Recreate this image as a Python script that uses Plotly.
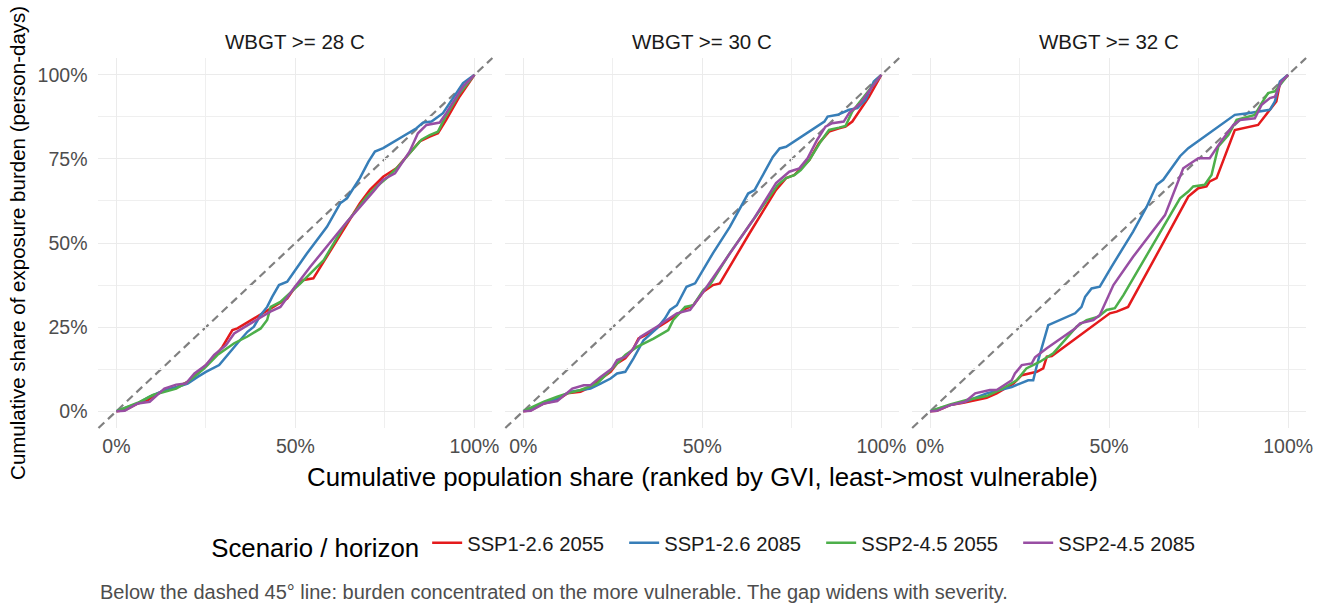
import plotly.graph_objects as go

# ---------------- data (fractions of total) ----------------
panels = ["WBGT >= 28 C", "WBGT >= 30 C", "WBGT >= 32 C"]
scenarios = ["SSP1-2.6 2055", "SSP1-2.6 2085", "SSP2-4.5 2055", "SSP2-4.5 2085"]
colors = ["#E41A1C", "#377EB8", "#4DAF4A", "#984EA3"]
tick_vals = [0, 0.25, 0.5, 0.75, 1.0]
x_tick_vals = [0, 0.5, 1.0]
x_minor_vals = [0.25, 0.75]
y_minor_vals = [0.125, 0.375, 0.625, 0.875]

# Panel WBGT >= 28 C
p28_a_x = [0, 2.3, 6, 8.8, 10.6, 13.4, 17, 19.9, 22.7, 25, 28.2, 29.6, 32.4, 33.8, 39.3, 44, 47.7, 50, 52.3, 55, 58.8, 63.4, 68, 70.8, 74.5, 78.2, 81, 84.7, 87.5, 89.8, 92.1, 95.8, 100]
p28_a_y = [0, 0.3, 2.3, 3.3, 4.8, 6.2, 7.2, 8.7, 11.2, 13.7, 17.2, 19.1, 24.1, 24.6, 28.1, 31, 33.5, 37, 39, 39.5, 46, 53.9, 61.8, 65.8, 69.7, 72.2, 75.7, 80.2, 81.6, 82.6, 86.6, 93.5, 100]
p28_b_x = [0, 6, 9.3, 12.5, 17, 19.9, 22.7, 25, 28.7, 31, 33.8, 36.6, 38.4, 40.3, 42.1, 43.5, 45.4, 47.7, 53.2, 58.8, 62.5, 64.4, 68, 70.4, 72.2, 74.5, 83.8, 85.6, 88, 91.2, 93.1, 96.8, 100]
p28_b_y = [0, 2.3, 4.3, 5.8, 7.2, 8.2, 10.2, 11.7, 13.7, 16.7, 20.2, 23.6, 25.1, 28.6, 31, 34, 37.5, 38.5, 46.9, 54.8, 61.8, 63.3, 69.3, 74.2, 77.2, 78.2, 84.1, 85.8, 86.1, 88.6, 91.5, 97.5, 100]
p28_c_x = [0, 6, 10.2, 13.4, 16.7, 19.9, 24.5, 28.2, 32.9, 36.6, 40.3, 42.1, 43.1, 45.8, 49.5, 51.4, 57.9, 63.4, 69.9, 72.7, 75.5, 78.7, 81.9, 85.2, 87.5, 89.8, 91.7, 95.8, 100]
p28_c_y = [0, 2.5, 4.8, 5.8, 6.7, 8.7, 12.7, 16.7, 20.2, 22.2, 24.6, 27.1, 31, 32.5, 36, 38, 44.9, 54.8, 63.8, 66.8, 69.3, 72.7, 76.7, 80.7, 82.1, 83.1, 87.1, 94.4, 100]
p28_d_x = [0, 2.3, 6, 9.3, 13.4, 16.7, 19.4, 21.8, 25, 27.3, 30.6, 32.9, 37.5, 43, 45.8, 49.5, 54.2, 64.4, 71.8, 74.5, 77.8, 81.9, 84.2, 86.6, 90.3, 92.1, 96.8, 100]
p28_d_y = [0, 0.1, 2.3, 2.8, 6.7, 7.9, 8.2, 11.2, 13.7, 16.7, 19.6, 23.1, 26.1, 29.6, 31, 36.5, 43, 56.3, 65.3, 68.8, 70.7, 77.2, 82.6, 85.1, 85.8, 88.6, 96.5, 100]

# Panel WBGT >= 30 C
p30_a_x = [0, 2.1, 5.8, 9.5, 12.3, 16, 18.8, 21.1, 24.4, 26.2, 28.5, 30.8, 32.2, 34.1, 40.1, 45.6, 47.5, 50.3, 53, 54.9, 63.2, 70.6, 73.4, 75.7, 77.5, 79.9, 82.6, 85.4, 88.2, 90, 91.9, 93.8, 96.6, 100]
p30_a_y = [0, 0.3, 2.3, 3.3, 5.3, 5.8, 7.2, 9.2, 11.7, 14.2, 15.7, 18.7, 21.6, 22.6, 26.6, 30.6, 31.5, 35.5, 37.5, 38, 52.9, 65.8, 69.3, 70.2, 72.2, 74.7, 79.7, 83.1, 84.1, 84.6, 86.1, 89.1, 93.5, 100]
p30_b_x = [0, 5.8, 9.5, 13.2, 18.8, 21.6, 24.4, 26.2, 28.5, 30.8, 33.6, 37.3, 39.6, 41, 42.9, 45.6, 48, 53, 57.7, 62.8, 64.6, 69.7, 71.6, 73.4, 79.9, 84.1, 85, 87.8, 91, 93.3, 95.6, 97.9, 100]
p30_b_y = [0, 2.3, 3.8, 5.8, 6.7, 8.2, 9.7, 11.2, 11.7, 15.7, 21.1, 24.6, 27.6, 30.1, 31.5, 37, 38, 47, 54.8, 64.7, 65.7, 75.6, 78.1, 78.6, 83.1, 86.1, 87.6, 88.1, 89.6, 90.1, 92.6, 98, 100]
p30_c_x = [0, 5.8, 9.5, 12.3, 16, 20.6, 24.4, 28.5, 31.8, 36.4, 40.5, 41.9, 45.2, 47.5, 50.3, 52.1, 57.7, 64.2, 71.1, 73.4, 75.7, 77.5, 79.9, 83.1, 85.4, 88.2, 90, 91.9, 95.6, 100]
p30_c_y = [0, 2.8, 4.3, 5.3, 6.3, 8.2, 12.2, 16.7, 19.1, 21.6, 24.1, 27.1, 31, 31.5, 36, 37.5, 47, 56.9, 67.3, 69.3, 70.2, 71.7, 74.7, 80.2, 83.6, 84.3, 84.8, 89.1, 94, 100]
p30_d_x = [0, 2.1, 5.8, 9.5, 13.7, 16.9, 18.8, 21.6, 24.8, 26.2, 28.5, 30.4, 32.7, 37.3, 42.9, 46.6, 50.3, 54.5, 64.2, 70.6, 74.3, 77.1, 79.4, 82.1, 84.4, 86.3, 89.5, 91, 94.2, 97.5, 100]
p30_d_y = [0, 0.1, 2.3, 3, 6.7, 7.7, 7.7, 10.2, 12.7, 15.2, 16.1, 18.1, 22.1, 25.1, 29.1, 30.1, 35.5, 41.9, 56.9, 67.8, 71.2, 72.2, 75.2, 80.7, 84.6, 85.6, 86.1, 88.6, 91.6, 96.5, 100]

# Panel WBGT >= 32 C
p32_a_x = [0, 1.9, 5.6, 9.3, 15.8, 18.6, 23.3, 25.6, 29.8, 31.6, 32.6, 34, 40, 46.5, 50.2, 52.1, 55.3, 66, 72.1, 74.9, 77.2, 78.1, 80, 85.1, 87.4, 91.6, 94.9, 96.7, 97.7, 100]
p32_a_y = [0, 0.1, 1.8, 2.5, 4, 5.3, 8.2, 10.7, 11.7, 12.7, 16.2, 16.4, 21.1, 26.1, 29.1, 29.6, 31, 51.8, 63.8, 66.3, 66.8, 68.3, 69.3, 83.6, 84.1, 85.1, 89.6, 92.1, 97.5, 100]
p32_b_x = [0, 5.6, 10.2, 15.8, 19.5, 22.8, 25.1, 27.4, 28.8, 30.2, 33, 36.3, 40.5, 42.3, 43.3, 45.1, 47.4, 50.7, 56.7, 60.5, 63.3, 65.1, 69.8, 72.1, 75.3, 85.1, 88.8, 92.1, 94.9, 96.3, 97.7, 100]
p32_b_y = [0, 1.8, 3, 5.3, 6.3, 7.2, 8.2, 9.2, 9.2, 15.2, 25.6, 27.1, 29.1, 31, 34, 36.5, 37, 43, 53.4, 60.8, 67.3, 68.8, 75.8, 78.2, 80.7, 88.1, 88.6, 89.1, 89.6, 92.1, 98, 100]
p32_c_x = [0, 5.6, 10.2, 15.8, 19.5, 24.2, 26.9, 30.7, 34.4, 40.9, 43.7, 47, 49.3, 51.6, 54, 62.3, 69.8, 72.1, 73.5, 76.7, 78.6, 80.5, 83.3, 85.6, 90.7, 92.6, 94.4, 96.3, 98.6, 100]
p32_c_y = [0, 2, 3.3, 4.5, 6.3, 9.2, 12.7, 14.7, 17.2, 25.1, 27.1, 28.1, 30.1, 30.6, 34.5, 49.8, 63.3, 65.3, 66.8, 67.3, 70.2, 78.7, 82.1, 86.6, 88.1, 91.6, 94.6, 95.1, 98, 100]
p32_d_x = [0, 1.9, 5.6, 9.8, 12.6, 16.7, 18.6, 22.8, 23.7, 25.6, 28.4, 29.3, 32.6, 40.5, 41.9, 45.6, 47.4, 51.2, 56.7, 62.3, 65.6, 70.7, 72.1, 74.9, 78.1, 80.9, 84.7, 86.5, 90.7, 92.6, 94.9, 96.3, 98.1, 100]
p32_d_y = [0, 0.1, 1.8, 2.8, 5.3, 6.3, 6.3, 9.2, 11.2, 13.7, 14.2, 16, 18.7, 24.6, 26.1, 27.1, 28.6, 37.5, 45.9, 53.9, 58.3, 72.2, 73.2, 75.2, 75.2, 79.7, 85.1, 86.6, 87.1, 91.1, 93.1, 93.5, 98, 100]

series = [
    [(p28_a_x, p28_a_y), (p28_b_x, p28_b_y), (p28_c_x, p28_c_y), (p28_d_x, p28_d_y)],
    [(p30_a_x, p30_a_y), (p30_b_x, p30_b_y), (p30_c_x, p30_c_y), (p30_d_x, p30_d_y)],
    [(p32_a_x, p32_a_y), (p32_b_x, p32_b_y), (p32_c_x, p32_c_y), (p32_d_x, p32_d_y)],
]

# ---------------- layout geometry ----------------
W, H = 1327, 613
FONT = "Liberation Sans, Arial, sans-serif"
panel_left_px = [99, 508, 917]
panel_w_px = 396
y_top_px, y_bot_px = 58, 428

fig = go.Figure()
layout_axes = {}
for p in range(3):
    xa = "x" if p == 0 else f"x{p+1}"
    ya = "y" if p == 0 else f"y{p+1}"
    for s in range(4):
        xs, ys = series[p][s]
        fig.add_trace(go.Scatter(
            x=[v / 100 for v in xs], y=[v / 100 for v in ys],
            mode="lines", name=scenarios[s],
            line=dict(color=colors[s], width=2.5),
            legendgroup=scenarios[s], showlegend=(p == 0),
            xaxis=xa, yaxis=ya,
        ))
    x0 = panel_left_px[p] / W
    x1 = (panel_left_px[p] + panel_w_px) / W
    xkey = "xaxis" if p == 0 else f"xaxis{p+1}"
    ykey = "yaxis" if p == 0 else f"yaxis{p+1}"
    layout_axes[xkey] = dict(
        domain=[x0, x1], range=[-0.05, 1.05], anchor=ya,
        tickvals=x_tick_vals, tickformat=".0%", showgrid=True,
        gridcolor="#EBEBEB", gridwidth=1.4, zeroline=False, showline=False,
        ticks="", ticklabelstandoff=4,
        tickfont=dict(size=19.5, color="#4D4D4D", family=FONT),
        minor=dict(tickvals=x_minor_vals, showgrid=True, gridcolor="#EFEFEF", gridwidth=0.7),
        fixedrange=True,
    )
    layout_axes[ykey] = dict(
        domain=[1 - y_bot_px / H, 1 - y_top_px / H], range=[-0.05, 1.05], anchor=xa,
        tickvals=tick_vals, tickformat=".0%", showgrid=True,
        gridcolor="#EBEBEB", gridwidth=1.4, zeroline=False, showline=False,
        ticks="", showticklabels=(p == 0), ticklabelstandoff=10,
        tickfont=dict(size=19.5, color="#4D4D4D", family=FONT),
        minor=dict(tickvals=y_minor_vals, showgrid=True, gridcolor="#EFEFEF", gridwidth=0.7),
        fixedrange=True,
    )
    # 45 degree reference line (domain corners == equal data corners)
    fig.add_shape(type="line", xref=f"{xa} domain", yref=f"{ya} domain",
                  x0=0, y0=0, x1=1, y1=1,
                  line=dict(color="#808080", width=2.2, dash="8px,5px"), layer="below")
    # facet strip label
    fig.add_annotation(text=panels[p], xref="paper", yref="paper",
                       x=(x0 + x1) / 2, y=1 - 41 / H, showarrow=False,
                       font=dict(size=20.5, color="#1A1A1A", family=FONT),
                       xanchor="center", yanchor="middle")

fig.update_layout(**layout_axes)

# axis titles and caption
fig.add_annotation(text="Cumulative population share (ranked by GVI, least->most vulnerable)",
                   xref="paper", yref="paper", x=706 / W, y=1 - 477 / H,
                   showarrow=False, font=dict(size=25.8, color="#000000", family=FONT),
                   xanchor="center", yanchor="middle")
fig.add_annotation(text="Cumulative share of exposure burden (person-days)",
                   xref="paper", yref="paper", x=17 / W, y=1 - 243 / H, textangle=-90,
                   showarrow=False, font=dict(size=20.5, color="#000000", family=FONT),
                   xanchor="center", yanchor="middle")
fig.add_annotation(text="Below the dashed 45° line: burden concentrated on the more vulnerable. The gap widens with severity.",
                   xref="paper", yref="paper", x=99 / W, y=1 - 592 / H,
                   showarrow=False, font=dict(size=20, color="#4D4D4D", family=FONT),
                   xanchor="left", yanchor="middle")

fig.update_layout(
    width=W, height=H,
    margin=dict(l=0, r=0, t=0, b=0),
    paper_bgcolor="white", plot_bgcolor="white",
    font=dict(family=FONT),
    legend=dict(
        orientation="h", x=716 / W, xanchor="center", y=1 - 545 / H, yanchor="middle",
        title=dict(text="Scenario / horizon", font=dict(size=25.8, color="#000000", family=FONT), side="left"),
        font=dict(size=20.2, color="#1A1A1A", family=FONT),
        itemwidth=30, entrywidth=152, entrywidthmode="pixels", bgcolor="rgba(0,0,0,0)",
    ),
)

fig.write_html("out.html", include_plotlyjs=True, config={"displayModeBar": False})
